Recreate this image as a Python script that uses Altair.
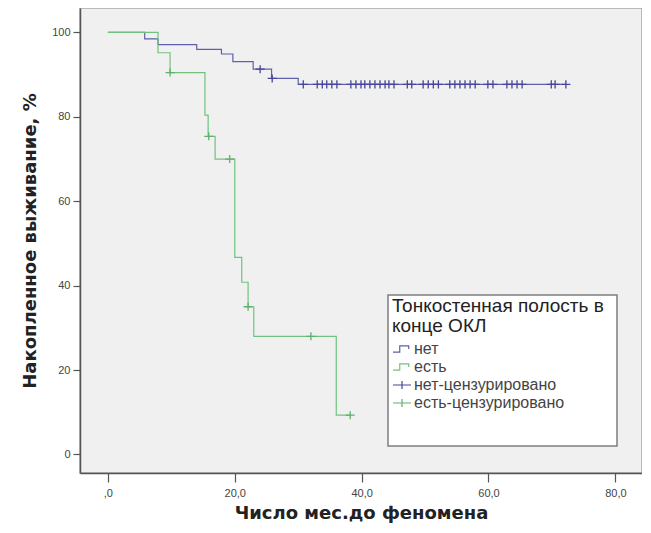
import altair as alt
import pandas as pd

# ---- data ----
# Kaplan-Meier step curves: time (months) and cumulative survival (%)
net_t = [0, 5.8, 7.9, 14.0, 17.9, 19.7, 22.9, 25.8, 30.0, 72.2]
net_s = [100, 98.5, 97.1, 96.0, 94.9, 93.1, 91.3, 89.1, 87.7, 87.7]
est_t = [0, 7.9, 9.8, 15.3, 15.8, 16.9, 20.0, 21.1, 22.1, 23.0, 36.0, 38.2]
est_s = [100, 95.2, 90.5, 80.4, 75.4, 70.0, 46.7, 40.8, 35.0, 28.0, 9.3, 9.3]

# censored observations (times)
net_c = [24.0, 25.9, 30.8, 33.0, 33.8, 34.5, 35.3, 36.1, 38.3, 39.1, 39.9, 40.5,
         41.3, 42.1, 42.9, 43.7, 44.3, 45.1, 47.2, 47.9, 49.7, 50.5, 51.3, 52.1,
         53.9, 54.7, 55.5, 56.3, 57.1, 57.9, 59.9, 60.7, 62.9, 63.7, 64.5, 65.3,
         69.9, 70.5, 72.2]
est_c = [9.8, 15.9, 19.2, 22.1, 32.0, 38.2]

groups = ["нет", "есть", "нет-цензурировано", "есть-цензурировано"]
legend_title = ["Тонкостенная полость в", "конце ОКЛ"]
x_ticks = [0, 20, 40, 60, 80]
y_ticks = [0, 20, 40, 60, 80, 100]

BLUE = "#5f5fab"
BLUE_C = "#45459a"
GREEN = "#72c27f"
GREEN_C = "#5fb06d"

STEP = "M-1,0.35H-0.25V-0.35H0.75V0"
PLUS = "M-1,0H1M0,-0.45V0.45"
CENS = "M-0.5,0H0.5M0,-0.45V0.45"


def level(ts, ss, t):
    v = ss[0]
    for a, b in zip(ts, ss):
        if a <= t:
            v = b
    return v


net_df = pd.DataFrame({"t": net_t, "s": net_s})
est_df = pd.DataFrame({"t": est_t, "s": est_s})
netc_df = pd.DataFrame({"t": net_c, "s": [level(net_t, net_s, t) for t in net_c]})
estc_df = pd.DataFrame({"t": est_c, "s": [level(est_t, est_s, t) for t in est_c]})
leg_df = pd.DataFrame({"g": groups, "t": [0] * 4, "s": [100] * 4})

xscale = alt.Scale(domain=[-4.4, 84.2], nice=False, zero=False)
yscale = alt.Scale(domain=[-4.4, 105.8], nice=False, zero=False)

xax = alt.Axis(
    values=x_ticks,
    labelExpr="datum.value == 0 ? ',0' : replace(format(datum.value, '.1f'), '.', ',')",
    title="Число мес.до феномена", titleFontSize=18,
    grid=False, tickSize=9, labelPadding=5, titlePadding=6,
)
yax = alt.Axis(
    values=y_ticks, title="Накопленное выживание, %", titleFontSize=18,
    grid=False, tickSize=7, labelPadding=3, titlePadding=12,
)

X = alt.X("t:Q", scale=xscale, axis=xax)
Y = alt.Y("s:Q", scale=yscale, axis=yax)
Xn = alt.X("t:Q", scale=xscale)
Yn = alt.Y("s:Q", scale=yscale)

box = alt.Chart(pd.DataFrame({"a": [0]})).mark_rect(
    fill="white", stroke="#7d7d7d", strokeWidth=1.5
).encode(x=alt.value(308), x2=alt.value(537), y=alt.value(287), y2=alt.value(438))

line_net = alt.Chart(net_df).mark_line(interpolate="step-after", color=BLUE, strokeWidth=1.2).encode(x=X, y=Y)
line_est = alt.Chart(est_df).mark_line(interpolate="step-after", color=GREEN, strokeWidth=1.2).encode(x=Xn, y=Yn)

cens_net = alt.Chart(netc_df).mark_point(shape=CENS, size=324, filled=False, color=BLUE_C, strokeWidth=1.3, opacity=1).encode(x=Xn, y=Yn)
cens_est = alt.Chart(estc_df).mark_point(shape=CENS, size=324, filled=False, color=GREEN_C, strokeWidth=1.3, opacity=1).encode(x=Xn, y=Yn)

carrier = alt.Chart(leg_df).mark_point(filled=False, size=0, strokeWidth=1.2).encode(
    x=Xn, y=Yn,
    color=alt.Color("g:N", scale=alt.Scale(domain=groups, range=[BLUE, GREEN, BLUE_C, GREEN_C]),
                    legend=alt.Legend(title=legend_title)),
    shape=alt.Shape("g:N", scale=alt.Scale(domain=groups, range=[STEP, STEP, PLUS, PLUS]),
                    legend=alt.Legend(title=legend_title)),
)

chart = alt.layer(box, line_net, line_est, cens_net, cens_est, carrier).properties(
    width=562, height=465,
    autosize=alt.AutoSizeParams(type="none"),
    padding={"left": 72, "top": 0, "right": 0, "bottom": 52},
    background="white",
).configure_view(
    fill="#f0f0f0", stroke="#a8a8a8", strokeWidth=1.5
).configure_axis(
    domainColor="#555555", domainWidth=1.5, tickColor="#555555", tickWidth=1.2,
    labelFont="Liberation Sans", labelFontSize=11, labelColor="#444444",
    titleFont="DejaVu Sans", titleFontWeight="bold", titleColor="#222222",
).configure_legend(
    orient="none", legendX=312, legendY=289, padding=0,
    titleFont="Liberation Sans", titleFontSize=19, titleFontWeight="normal",
    titleColor="#222222", titleLineHeight=20, titleLimit=400, titlePadding=3, titleAnchor="start",
    labelFont="Liberation Sans", labelFontSize=16, labelColor="#444444", labelOffset=2,
    symbolSize=324, symbolStrokeWidth=1.2, symbolFillColor="transparent", rowPadding=0,
    symbolOpacity=1,
)

chart.save("out.html", embed_options={"renderer": "svg", "actions": False})
